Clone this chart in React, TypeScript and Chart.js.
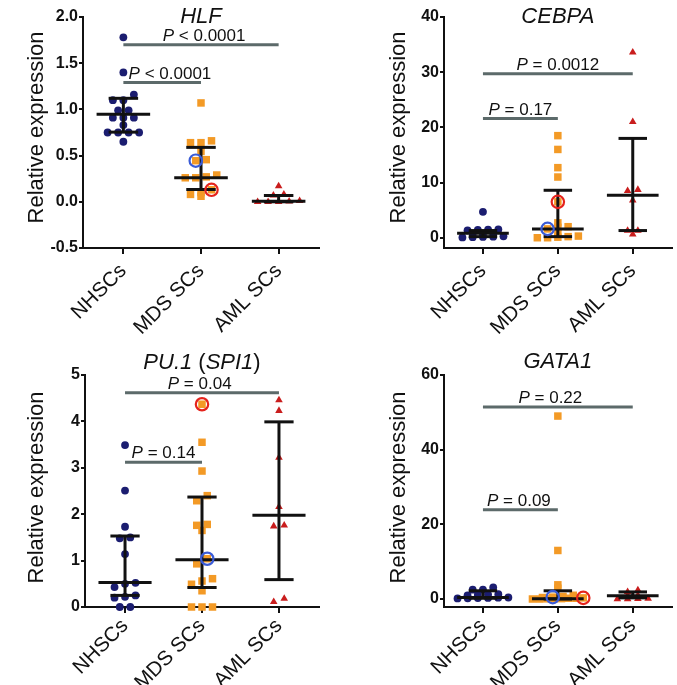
import React, { useEffect, useRef } from "react";
import { Chart, registerables } from "chart.js";
Chart.register(...registerables);

const FONT = '"Liberation Sans", Arial, Helvetica, sans-serif';

const categories = ["NHSCs", "MDS SCs", "AML SCs"];

// ---- HLF ----
const hlfNhsc = [1.78, 1.40, 1.16, 1.10, 1.10, 0.99, 0.99, 0.91, 0.91, 0.91, 0.83, 0.75, 0.75, 0.75, 0.75, 0.65];
const hlfMds = [1.07, 0.66, 0.64, 0.64, 0.545, 0.456, 0.445, 0.29, 0.27, 0.26, 0.26, 0.13, 0.10, 0.08, 0.06];
const hlfAml = [0.17, 0.08, 0.07, 0.01, 0.005, 0.0, 0.0, 0.0];
const hlfMedian = [0.948, 0.259, 0.007];
const hlfQ1 = [0.754, 0.133, 0.0];
const hlfQ3 = [1.12, 0.589, 0.068];
const hlfYTicks = [-0.5, 0, 0.5, 1.0, 1.5, 2.0];

// ---- CEBPA ----
const cebpaNhsc = [4.7, 1.5, 1.45, 1.4, 1.35, 0.8, 0.75, 0.7, 0.25, 0.2, 0.15, 0.1, 0.05];
const cebpaMds = [18.5, 16.0, 12.7, 11.0, 6.5, 2.7, 2.0, 1.9, 1.6, 1.0, 0.3, 0.2, 0.1, 0.0, 0.0];
const cebpaAml = [33.6, 21.0, 8.7, 8.5, 6.8, 1.3, 1.3, 0.6];
const cebpaMedian = [0.8, 1.57, 7.7];
const cebpaQ1 = [0.2, 0.2, 1.3];
const cebpaQ3 = [1.3, 8.6, 18.0];
const cebpaYTicks = [0, 10, 20, 30, 40];

// ---- PU.1 (SPI1) ----
const pu1Nhsc = [3.49, 2.51, 1.73, 1.50, 1.48, 1.14, 0.52, 0.50, 0.43, 0.25, 0.22, 0.20, 0.0, 0.0];
const pu1Mds = [4.37, 3.55, 2.93, 2.40, 2.29, 1.78, 1.76, 1.65, 1.04, 0.93, 0.61, 0.56, 0.49, 0.35, 0.0, 0.0, 0.0];
const pu1Aml = [4.46, 4.23, 3.22, 2.16, 1.76, 1.74, 0.18, 0.11];
const pu1Median = [0.53, 1.02, 1.98];
const pu1Q1 = [0.25, 0.42, 0.59];
const pu1Q3 = [1.53, 2.37, 3.99];
const pu1YTicks = [0, 1, 2, 3, 4, 5];

// ---- GATA1 ----
const gataNhsc = [3.1, 2.5, 2.5, 1.3, 1.2, 1.1, 1.0, 0.4, 0.35, 0.3, 0.25, 0.2, 0.15];
const gataMds = [49.0, 13.0, 3.8, 2.9, 1.0, 0.7, 0.5, 0.4, 0.3, 0.2, 0.2, 0.1, 0.1, 0.05, 0.0, 0.0];
const gataAml = [2.4, 1.9, 1.0, 0.9, 0.1, 0.05, 0.0, 0.0];
const gataMedian = [0.4, 0.1, 0.9];
const gataQ1 = [0.2, 0.0, 0.3];
const gataQ3 = [2.2, 2.2, 1.9];
const gataYTicks = [0, 20, 40, 60];

type Part = { t: string; i?: boolean };
type Bracket = { from: number; to: number; y: number; label: Part[]; tx: number };
interface Panel {
  title: Part[];
  groups: number[][];
  median: number[];
  q1: number[];
  q3: number[];
  yMin: number;
  yMax: number;
  yTicks: number[];
  decimals: number;
  blue: number;
  red: number;
  brackets: Bracket[];
  box: { left: number; top: number; w: number; h: number };
  plot: { l: number; r: number; t: number; b: number };
  titleY: number;
  yTitleX: number;
  yTitleY: number;
  rowPx: number;
  labelPad: number;
}

const X_MIN = -0.52;
const X_MAX = 2.52;

const P = (rest: string): Part[] => [{ t: "P", i: true }, { t: rest }];

const panels: Panel[] = [
  {
    title: [{ t: "HLF", i: true }],
    groups: [hlfNhsc, hlfMds, hlfAml],
    median: hlfMedian, q1: hlfQ1, q3: hlfQ3,
    yMin: -0.5, yMax: 2.0, yTicks: hlfYTicks, decimals: 1,
    blue: 0.445, red: 0.13,
    brackets: [
      { from: 0, to: 2, y: 1.70, label: P(" < 0.0001"), tx: 1.04 },
      { from: 0, to: 1, y: 1.29, label: P(" < 0.0001"), tx: 0.6 },
    ],
    box: { left: 0, top: 0, w: 338, h: 340 },
    plot: { l: 83, r: 319, t: 17, b: 248 },
    titleY: 23, yTitleX: 43, yTitleY: 127.5, rowPx: 6, labelPad: 5,
  },
  {
    title: [{ t: "CEBPA", i: true }],
    groups: [cebpaNhsc, cebpaMds, cebpaAml],
    median: cebpaMedian, q1: cebpaQ1, q3: cebpaQ3,
    yMin: -1.86, yMax: 40, yTicks: cebpaYTicks, decimals: 0,
    blue: 1.6, red: 6.5,
    brackets: [
      { from: 0, to: 2, y: 29.7, label: P(" = 0.0012"), tx: 1.0 },
      { from: 0, to: 1, y: 21.6, label: P(" = 0.17"), tx: 0.5 },
    ],
    box: { left: 338, top: 0, w: 339, h: 340 },
    plot: { l: 106, r: 339, t: 17, b: 248 },
    titleY: 23, yTitleX: 67, yTitleY: 127.5, rowPx: 2.5, labelPad: 5,
  },
  {
    title: [{ t: "PU.1", i: true }, { t: " (" }, { t: "SPI1", i: true }, { t: ")" }],
    groups: [pu1Nhsc, pu1Mds, pu1Aml],
    median: pu1Median, q1: pu1Q1, q3: pu1Q3,
    yMin: 0, yMax: 5, yTicks: pu1YTicks, decimals: 0,
    blue: 1.04, red: 4.37,
    brackets: [
      { from: 0, to: 2, y: 4.62, label: P(" = 0.04"), tx: 0.97 },
      { from: 0, to: 1, y: 3.12, label: P(" = 0.14"), tx: 0.5 },
    ],
    box: { left: 0, top: 340, w: 338, h: 345 },
    plot: { l: 85, r: 319, t: 35, b: 267 },
    titleY: 29, yTitleX: 43, yTitleY: 147.5, rowPx: 6, labelPad: 1,
  },
  {
    title: [{ t: "GATA1", i: true }],
    groups: [gataNhsc, gataMds, gataAml],
    median: gataMedian, q1: gataQ1, q3: gataQ3,
    yMin: -2.14, yMax: 60, yTicks: gataYTicks, decimals: 0,
    blue: 0.5, red: 0.3,
    brackets: [
      { from: 0, to: 2, y: 51.4, label: P(" = 0.22"), tx: 0.9 },
      { from: 0, to: 1, y: 23.9, label: P(" = 0.09"), tx: 0.48 },
    ],
    box: { left: 338, top: 340, w: 339, h: 345 },
    plot: { l: 106, r: 339, t: 35, b: 267 },
    titleY: 28, yTitleX: 67, yTitleY: 147.5, rowPx: 2.5, labelPad: 1,
  },
];

const groupStyles = [
  { style: "circle", color: "#1b1d70", radius: 3.9 },
  { style: "rect", color: "#f39a26", radius: 5.3 },
  { style: "triangle", color: "#c91d1d", radius: 4.4 },
];

function swarm(values: number[], g: number, pxY: number, pxX: number, rowPx: number) {
  const spacing = 10.5;
  const maxW = 52;
  const idx = values.map((_, i) => i).sort((a, b) => values[b] - values[a]);
  const xs = new Array(values.length).fill(g);
  let i = 0;
  while (i < idx.length) {
    const start = values[idx[i]];
    let j = i;
    while (j < idx.length && (start - values[idx[j]]) * pxY < rowPx) j++;
    const k = j - i;
    const row = idx.slice(i, j).sort((a, b) => values[a] - values[b]);
    const sp = k > 1 ? Math.min(spacing, maxW / (k - 1)) : 0;
    row.forEach((id, m) => {
      xs[id] = g + ((m - (k - 1) / 2) * sp) / pxX;
    });
    i = j;
  }
  return values.map((v, n) => ({ x: xs[n], y: v }));
}

function drawParts(ctx: CanvasRenderingContext2D, parts: Part[], cx: number, y: number, size: number) {
  const fonts = parts.map((p) => `${p.i ? "italic " : ""}${size}px ${FONT}`);
  let total = 0;
  const ws = parts.map((p, k) => {
    ctx.font = fonts[k];
    const w = ctx.measureText(p.t).width;
    total += w;
    return w;
  });
  let x = cx - total / 2;
  ctx.textAlign = "left";
  ctx.textBaseline = "alphabetic";
  parts.forEach((p, k) => {
    ctx.font = fonts[k];
    ctx.fillText(p.t, x, y);
    x += ws[k];
  });
}

function PanelChart({ p }: { p: Panel }) {
  const ref = useRef<HTMLCanvasElement>(null);
  useEffect(() => {
    const canvas = ref.current!;
    const pxY = (p.plot.b - p.plot.t) / (p.yMax - p.yMin);
    const pxX = (p.plot.r - p.plot.l) / (X_MAX - X_MIN);
    const datasets = p.groups.map((vals, g) => ({
      label: categories[g],
      data: swarm(vals, g, pxY, pxX, p.rowPx),
      pointStyle: groupStyles[g].style as any,
      pointRadius: groupStyles[g].radius,
      backgroundColor: groupStyles[g].color,
      borderColor: groupStyles[g].color,
      borderWidth: 0,
      clip: false as any,
      showLine: false,
    }));

    const overlay = {
      id: "overlay",
      afterDatasetsDraw(chart: any) {
        const ctx: CanvasRenderingContext2D = chart.ctx;
        const xs = chart.scales.x;
        const ys = chart.scales.y;
        ctx.save();
        ctx.strokeStyle = "#111";
        ctx.lineWidth = 3;
        ctx.lineCap = "butt";
        const seg = (x1: number, y1: number, x2: number, y2: number) => {
          ctx.beginPath();
          ctx.moveTo(x1, y1);
          ctx.lineTo(x2, y2);
          ctx.stroke();
        };
        for (let g = 0; g < 3; g++) {
          const cx = xs.getPixelForValue(g);
          const mh = xs.getPixelForValue(g + 0.345) - cx;
          const ch = xs.getPixelForValue(g + 0.19) - cx;
          const yM = ys.getPixelForValue(p.median[g]);
          const y1 = ys.getPixelForValue(p.q1[g]);
          const y3 = ys.getPixelForValue(p.q3[g]);
          seg(cx, y1, cx, y3);
          seg(cx - ch, y1, cx + ch, y1);
          seg(cx - ch, y3, cx + ch, y3);
          seg(cx - mh, yM, cx + mh, yM);
        }
        const meta = chart.getDatasetMeta(1);
        const mds = p.groups[1];
        const ring = (v: number, color: string) => {
          const k = mds.indexOf(v);
          if (k < 0) return;
          const el = meta.data[k];
          ctx.beginPath();
          ctx.arc(el.x, el.y, 6.2, 0, Math.PI * 2);
          ctx.strokeStyle = color;
          ctx.lineWidth = 2.2;
          ctx.stroke();
        };
        ring(p.blue, "#3a5bd6");
        ring(p.red, "#e5231c");
        ctx.strokeStyle = "#5c6a6a";
        ctx.lineWidth = 3;
        ctx.fillStyle = "#111";
        for (const b of p.brackets) {
          const y = ys.getPixelForValue(b.y);
          seg(xs.getPixelForValue(b.from), y, xs.getPixelForValue(b.to), y);
          drawParts(ctx, b.label, xs.getPixelForValue(b.tx), y - 4, 17);
        }
        drawParts(ctx, p.title, xs.getPixelForValue(1), p.titleY, 22);
        ctx.save();
        ctx.translate(p.yTitleX, p.yTitleY);
        ctx.rotate(-Math.PI / 2);
        ctx.font = `22px ${FONT}`;
        ctx.textAlign = "center";
        ctx.textBaseline = "alphabetic";
        ctx.fillText("Relative expression", 0, 0);
        ctx.restore();
        ctx.restore();
      },
    };

    const chart = new Chart(canvas, {
      type: "scatter",
      data: { datasets },
      options: {
        animation: false,
        responsive: false,
        layout: { padding: { left: 0, right: p.box.w - p.plot.r, top: p.plot.t, bottom: 0 } },
        plugins: { legend: { display: false }, tooltip: { enabled: false }, title: { display: false } },
        scales: {
          x: {
            type: "linear",
            min: X_MIN,
            max: X_MAX,
            afterBuildTicks: (s: any) => {
              s.ticks = categories.map((_, i) => ({ value: i }));
            },
            afterFit: (s: any) => {
              s.height = p.box.h - p.plot.b;
            },
            ticks: {
              autoSkip: false,
              minRotation: 45,
              maxRotation: 45,
              padding: p.labelPad,
              color: "#111",
              font: { family: FONT, size: 20.5 },
              callback: (v: any) => categories[Math.round(Number(v))] ?? "",
            },
            grid: { drawOnChartArea: false, drawTicks: true, tickLength: 6, color: "#111", lineWidth: 2 },
            border: { display: true, color: "#111", width: 2 },
          },
          y: {
            type: "linear",
            min: p.yMin,
            max: p.yMax,
            afterBuildTicks: (s: any) => {
              s.ticks = p.yTicks.map((v) => ({ value: v }));
            },
            afterFit: (s: any) => {
              s.width = p.plot.l;
            },
            ticks: {
              padding: 1,
              color: "#111",
              font: { family: FONT, size: 16, weight: "bold" },
              callback: (v: any) => Number(v).toFixed(p.decimals),
            },
            grid: { drawOnChartArea: false, drawTicks: true, tickLength: 4, color: "#111", lineWidth: 2 },
            border: { display: true, color: "#111", width: 2 },
          },
        },
      } as any,
      plugins: [overlay],
    });
    return () => chart.destroy();
  }, [p]);
  return (
    <div style={{ position: "absolute", left: p.box.left, top: p.box.top, width: p.box.w, height: p.box.h }}>
      <canvas ref={ref} width={p.box.w} height={p.box.h} style={{ display: "block" }} />
    </div>
  );
}

export default function App() {
  return (
    <div style={{ position: "absolute", left: 0, top: 0, width: 677, height: 685, background: "#fff" }}>
      {panels.map((p, i) => (
        <PanelChart key={i} p={p} />
      ))}
    </div>
  );
}
